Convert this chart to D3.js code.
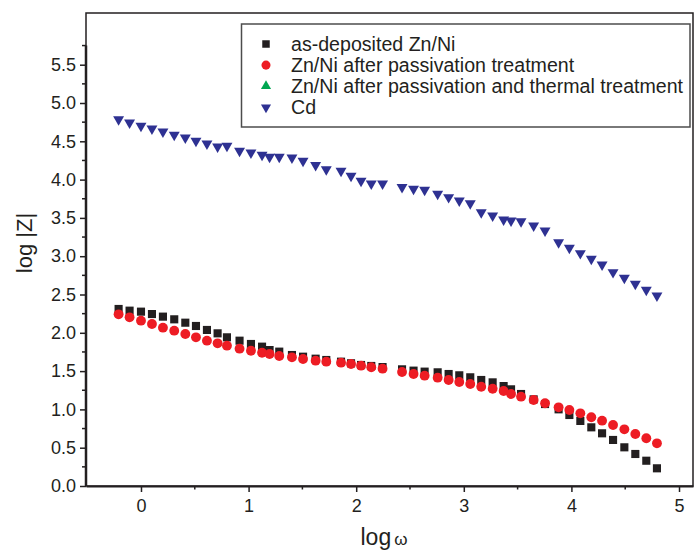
<!DOCTYPE html>
<html>
<head>
<meta charset="utf-8">
<script src="https://cdn.jsdelivr.net/npm/d3@7/dist/d3.min.js"></script>
<style>
  body { margin: 0; background: #fff; }
  svg text { font-family: Arial, "Liberation Sans", sans-serif; fill: #231f20; }
</style>
</head>
<body>
<svg id="chart" width="694" height="551"></svg>
<script>
// log(omega), shared by every series
var logOmega = [-0.208, -0.106, 0.000, 0.102, 0.204, 0.309, 0.412, 0.511, 0.613, 0.712,
    0.799, 0.916, 1.022, 1.125, 1.195, 1.285, 1.403, 1.506, 1.623, 1.722,
    1.859, 1.952, 2.045, 2.140, 2.245, 2.426, 2.533, 2.636, 2.757, 2.859,
    2.958, 3.060, 3.162, 3.268, 3.370, 3.439, 3.532, 3.649, 3.755, 3.881,
    3.981, 4.083, 4.185, 4.285, 4.387, 4.492, 4.594, 4.696, 4.795];

// log|Z|
var asDeposited = [2.311, 2.289, 2.276, 2.245, 2.211, 2.176, 2.132, 2.089, 2.037, 1.993,
    1.941, 1.897, 1.854, 1.819, 1.775, 1.754, 1.710, 1.688, 1.662, 1.645,
    1.623, 1.602, 1.580, 1.567, 1.553, 1.523, 1.506, 1.493, 1.484, 1.462,
    1.445, 1.419, 1.384, 1.353, 1.305, 1.262, 1.201, 1.131, 1.070, 1.001,
    0.927, 0.849, 0.766, 0.688, 0.601, 0.505, 0.418, 0.330, 0.231];

var passivated = [2.241, 2.202, 2.158, 2.115, 2.067, 2.028, 1.984, 1.941, 1.897, 1.863,
    1.832, 1.793, 1.766, 1.740, 1.723, 1.697, 1.680, 1.658, 1.636, 1.623,
    1.610, 1.593, 1.571, 1.550, 1.532, 1.488, 1.462, 1.440, 1.414, 1.384,
    1.358, 1.332, 1.296, 1.270, 1.240, 1.201, 1.166, 1.123, 1.080, 1.027,
    0.992, 0.949, 0.897, 0.853, 0.796, 0.740, 0.679, 0.623, 0.557];

var cadmium = [4.787, 4.743, 4.700, 4.664, 4.625, 4.582, 4.547, 4.504, 4.469, 4.430,
    4.439, 4.373, 4.351, 4.321, 4.295, 4.295, 4.286, 4.243, 4.187, 4.134,
    4.112, 4.047, 3.982, 3.946, 3.948, 3.900, 3.877, 3.864, 3.812, 3.769,
    3.725, 3.690, 3.573, 3.529, 3.477, 3.463, 3.455, 3.398, 3.333, 3.181,
    3.107, 3.038, 2.963, 2.889, 2.790, 2.715, 2.637, 2.559, 2.484];

var legendLabels = ["as-deposited Zn/Ni", "Zn/Ni after passivation treatment",
    "Zn/Ni after passivation and thermal treatment", "Cd"];

var xTicks = [0, 1, 2, 3, 4, 5];
var xMinor = [0.5, 1.5, 2.5, 3.5, 4.5];
var yTicks = [0, 0.5, 1, 1.5, 2, 2.5, 3, 3.5, 4, 4.5, 5, 5.5];
var yMinor = [0.25, 0.75, 1.25, 1.75, 2.25, 2.75, 3.25, 3.75, 4.25, 4.75, 5.25, 5.75];

(function () {
    'use strict';

    var ink = "#231f20",
        left = 86, right = 693, top = 13, bottom = 486;

    var svg = d3.select("#chart");

    var x = d3.scaleLinear().domain([-0.511, 5.13]).range([left, right]);
    var y = d3.scaleLinear().domain([0, 6.175]).range([bottom, top]);

    // markers, one style per series
    var styles = [
        { type: d3.symbolSquare, size: 66, colour: ink, rotate: 0 },
        { type: d3.symbolCircle, size: 76, colour: "#ed1c24", rotate: 0 },
        { type: d3.symbolTriangle, size: 52, colour: "#00a651", rotate: 0 },
        { type: d3.symbolTriangle, size: 52, colour: "#2e3192", rotate: 180 }
    ];

    // frame
    svg.append("rect")
        .attr("x", left).attr("y", top)
        .attr("width", right - left).attr("height", bottom - top)
        .attr("fill", "none")
        .attr("stroke", ink)
        .attr("stroke-width", 1.5);

    // bottom axis
    var xAxis = svg.append("g")
        .attr("transform", "translate(0," + bottom + ")")
        .call(d3.axisBottom(x).tickValues(xTicks).tickSize(6).tickSizeOuter(0)
            .tickPadding(7).tickFormat(d3.format("d")));
    xAxis.select(".domain").attr("stroke", ink).attr("stroke-width", 2);
    xAxis.selectAll(".tick line").attr("stroke", ink).attr("stroke-width", 1.5);
    xAxis.selectAll(".tick text").attr("font-size", 18).attr("fill", ink);
    svg.append("g")
        .attr("transform", "translate(0," + bottom + ")")
        .selectAll("line")
        .data(xMinor)
        .enter()
        .append("line")
        .attr("x1", function (d) { return x(d); })
        .attr("x2", function (d) { return x(d); })
        .attr("y1", 0).attr("y2", 3.5)
        .attr("stroke", ink).attr("stroke-width", 1.5);

    // left axis, its line stops at the last minor tick
    var yAxis = svg.append("g")
        .attr("transform", "translate(" + left + ",0)")
        .call(d3.axisLeft(y).tickValues(yTicks).tickSize(6).tickPadding(4)
            .tickFormat(d3.format(".1f")));
    yAxis.select(".domain").remove();
    yAxis.selectAll(".tick line").attr("stroke", ink).attr("stroke-width", 1.5);
    yAxis.selectAll(".tick text").attr("font-size", 18).attr("fill", ink);
    yAxis.append("line")
        .attr("x1", 0).attr("x2", 0)
        .attr("y1", y(0)).attr("y2", y(5.75))
        .attr("stroke", ink).attr("stroke-width", 2.5);
    yAxis.selectAll(".minor")
        .data(yMinor)
        .enter()
        .append("line")
        .attr("class", "minor")
        .attr("x1", -4).attr("x2", 0)
        .attr("y1", function (d) { return y(d); })
        .attr("y2", function (d) { return y(d); })
        .attr("stroke", ink).attr("stroke-width", 1.5);

    // axis titles
    svg.append("text")
        .attr("transform", "translate(32,243) rotate(-90)")
        .attr("text-anchor", "middle")
        .attr("font-size", 22)
        .text("log |Z|");

    var xTitle = svg.append("text")
        .attr("x", 384).attr("y", 545)
        .attr("text-anchor", "middle")
        .attr("font-size", 23);
    xTitle.append("tspan").text("log");
    xTitle.append("tspan").attr("font-size", 17).attr("dx", 3).text("\u03c9");

    // data
    var series = [asDeposited, passivated, cadmium];
    var seriesStyle = [styles[0], styles[1], styles[3]];

    series.forEach(function (values, i) {
        var st = seriesStyle[i];
        svg.append("g")
            .selectAll("path")
            .data(values)
            .enter()
            .append("path")
            .attr("d", d3.symbol().type(st.type).size(st.size))
            .attr("transform", function (d, j) {
                return "translate(" + x(logOmega[j]) + "," + y(d) + ") rotate(" + st.rotate + ")";
            })
            .attr("fill", st.colour);
    });

    // legend
    var legend = svg.append("g");
    legend.append("rect")
        .attr("x", 241.5).attr("y", 24)
        .attr("width", 448.5).attr("height", 103)
        .attr("fill", "#fff")
        .attr("stroke", "#4d4d4d")
        .attr("stroke-width", 1.5);

    var rows = legend.selectAll(".row")
        .data(legendLabels)
        .enter()
        .append("g")
        .attr("class", "row")
        .attr("transform", function (d, i) { return "translate(0," + (44 + i * 21.1) + ")"; });

    rows.append("path")
        .attr("d", function (d, i) { return d3.symbol().type(styles[i].type).size(styles[i].size * 0.85)(); })
        .attr("transform", function (d, i) { return "translate(266,0) rotate(" + styles[i].rotate + ")"; })
        .attr("fill", function (d, i) { return styles[i].colour; });

    rows.append("text")
        .attr("x", 291)
        .attr("dy", "0.35em")
        .attr("font-size", 19.6)
        .text(function (d) { return d; });
})();
</script>
</body>
</html>
